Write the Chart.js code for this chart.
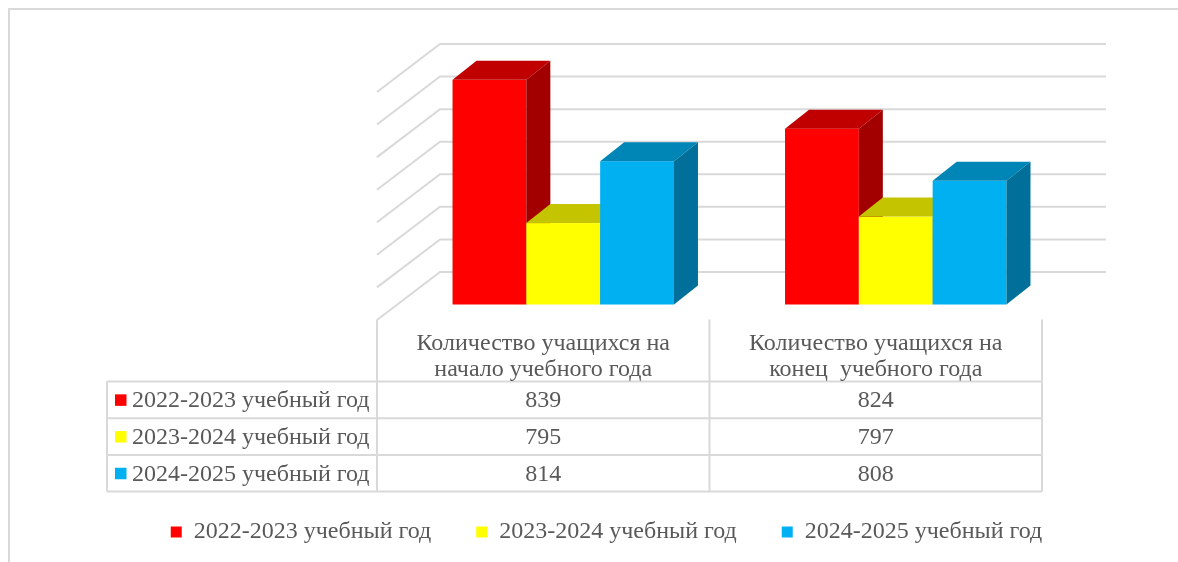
<!DOCTYPE html>
<html lang="ru">
<head>
<meta charset="utf-8">
<title>Количество учащихся</title>
<script src="https://cdn.jsdelivr.net/npm/chart.js@4.4.1/dist/chart.umd.min.js"></script>
<style>
  html, body { margin: 0; padding: 0; background: #fff; }
  canvas { display: block; }
</style>
</head>
<body>
<canvas id="uchChart" width="1178" height="562"></canvas>
<script>
// Данные
const kategorii = [
    ['Количество учащихся на', 'начало учебного года'],
    ['Количество учащихся на', 'конец  учебного года']
];
const godaLabels = ['2022-2023 учебный год', '2023-2024 учебный год', '2024-2025 учебный год'];
const znachenia2022 = [839, 824];
const znachenia2023 = [795, 797];
const znachenia2024 = [814, 808];
const yMin = 770, yMax = 850, yStep = 10;

// Цвета: лицевая грань, верх, бок
const cveta = ['#FF0000', '#FFFF00', '#00B0F0'];
const cvetaVerh = ['#C00000', '#C4C400', '#0086B6'];
const cvetaBok = ['#A20000', '#A6A600', '#00709A'];
const setkaCvet = '#D9D9D9';
const tekstCvet = '#595959';
const shrift = "'Liberation Serif', 'Times New Roman', serif";

const glubina = { dx: 24, dy: 19 };            // глубина столбца
const stena = { dx: 63, dy: 48, sdvig: 20 };    // боковая стенка

// Рамка всей диаграммы
const ramkaPlugin = {
    id: 'ramka',
    beforeDraw(chart) {
        const ctx = chart.ctx;
        ctx.save();
        ctx.fillStyle = '#fff';
        ctx.fillRect(0, 0, chart.width, chart.height);
        ctx.strokeStyle = setkaCvet;
        ctx.lineWidth = 2;
        ctx.strokeRect(9, 9, chart.width + 40, chart.height + 40);
        ctx.restore();
    }
};

// Задняя и боковая стенки (линии сетки)
const stenaPlugin = {
    id: 'stena',
    beforeDatasetsDraw(chart) {
        const { ctx, chartArea, scales: { y } } = chart;
        const frontX = chartArea.left - stena.sdvig;
        const backX = frontX + stena.dx;
        const backRight = chartArea.right + 44;
        ctx.save();
        ctx.strokeStyle = setkaCvet;
        ctx.lineWidth = 2;
        y.ticks.forEach(t => {
            if (t.value <= yMin) return;
            const py = y.getPixelForValue(t.value);
            ctx.beginPath();
            ctx.moveTo(frontX, py + stena.dy);
            ctx.lineTo(backX, py);
            ctx.lineTo(backRight, py);
            ctx.stroke();
        });
        ctx.restore();
    }
};

// Объёмные столбцы (рисуем сами, слева направо)
const stolbikiPlugin = {
    id: 'stolbiki3d',
    beforeDatasetDraw() {
        return false;
    },
    afterDatasetsDraw(chart) {
        const ctx = chart.ctx;
        const n = chart.data.labels.length;
        const base = chart.scales.y.getPixelForValue(yMin);
        ctx.save();
        for (let j = 0; j < n; j++) {
            chart.data.datasets.forEach((ds, i) => {
                const bar = chart.getDatasetMeta(i).data[j];
                const { x, y, width } = bar.getProps(['x', 'y', 'width'], true);
                const l = x - width / 2, r = x + width / 2;
                const dx = glubina.dx, dy = glubina.dy;

                ctx.fillStyle = cveta[i];
                ctx.fillRect(l, y, width, base - y);

                ctx.fillStyle = cvetaVerh[i];
                ctx.beginPath();
                ctx.moveTo(l, y);
                ctx.lineTo(l + dx, y - dy);
                ctx.lineTo(r + dx, y - dy);
                ctx.lineTo(r, y);
                ctx.closePath();
                ctx.fill();

                ctx.fillStyle = cvetaBok[i];
                ctx.beginPath();
                ctx.moveTo(r, y);
                ctx.lineTo(r + dx, y - dy);
                ctx.lineTo(r + dx, base - dy);
                ctx.lineTo(r, base);
                ctx.closePath();
                ctx.fill();
            });
        }
        ctx.restore();
    }
};

// Таблица данных под диаграммой
const tablicaPlugin = {
    id: 'tablica',
    afterDraw(chart) {
        const { ctx, chartArea } = chart;
        const n = chart.data.labels.length;
        const front = chartArea.left - stena.sdvig;
        const colW = (chartArea.right - chartArea.left) / n;
        const right = front + colW * n;
        const tLeft = 107;
        const top = chartArea.bottom + 15;
        const headBottom = top + 62;
        const rowH = 36.7;
        const rows = chart.data.datasets.length;
        const bottom = headBottom + rowH * rows;

        ctx.save();
        ctx.strokeStyle = setkaCvet;
        ctx.lineWidth = 2;
        ctx.beginPath();
        for (let c = 0; c <= n; c++) {
            const cx = front + colW * c;
            ctx.moveTo(cx, top);
            ctx.lineTo(cx, bottom);
        }
        ctx.moveTo(tLeft, headBottom);
        ctx.lineTo(tLeft, bottom);
        for (let r = 0; r <= rows; r++) {
            const ry = headBottom + rowH * r;
            ctx.moveTo(tLeft, ry);
            ctx.lineTo(right, ry);
        }
        ctx.stroke();

        ctx.font = '24px ' + shrift;
        ctx.fillStyle = tekstCvet;
        ctx.textAlign = 'center';
        ctx.textBaseline = 'middle';
        chart.data.labels.forEach((lab, c) => {
            const cx = front + colW * (c + 0.5);
            ctx.fillText(lab[0], cx, top + 24);
            ctx.fillText(lab[1], cx, top + 50);
        });

        chart.data.datasets.forEach((ds, r) => {
            const cy = headBottom + rowH * (r + 0.5) + 1;
            ctx.fillStyle = cveta[r];
            ctx.fillRect(tLeft + 8, cy - 6.5, 11.5, 11.5);
            ctx.fillStyle = tekstCvet;
            ctx.textAlign = 'left';
            ctx.fillText(ds.label, tLeft + 25, cy);
            ctx.textAlign = 'center';
            ds.data.forEach((v, c) => {
                ctx.fillText(String(v), front + colW * (c + 0.5), cy);
            });
        });
        ctx.restore();
    }
};

const ctxUch = document.getElementById('uchChart').getContext('2d');
const uchChart = new Chart(ctxUch, {
    type: 'bar',
    data: {
        labels: kategorii,
        datasets: [
            { label: godaLabels[0], data: znachenia2022, backgroundColor: cveta[0], borderWidth: 0 },
            { label: godaLabels[1], data: znachenia2023, backgroundColor: cveta[1], borderWidth: 0 },
            { label: godaLabels[2], data: znachenia2024, backgroundColor: cveta[2], borderWidth: 0 }
        ]
    },
    options: {
        responsive: false,
        animation: false,
        font: { family: shrift },
        categoryPercentage: 0.666,
        barPercentage: 1,
        base: yMin,
        layout: { padding: { top: 44, left: 35, right: 0, bottom: 8 } },
        scales: {
            x: {
                grid: { display: false },
                border: { display: false },
                ticks: { display: false },
                afterFit: s => { s.height = 170.5; }
            },
            y: {
                position: 'left',
                min: yMin,
                max: yMax,
                ticks: { display: false, stepSize: yStep },
                grid: { display: false },
                border: { display: false },
                afterFit: s => { s.width = 362; }
            },
            y2: {
                type: 'linear',
                position: 'right',
                ticks: { display: false },
                grid: { display: false },
                border: { display: false },
                afterFit: s => { s.width = 116; }
            }
        },
        plugins: {
            tooltip: { enabled: false },
            legend: {
                position: 'bottom',
                labels: {
                    boxWidth: 11,
                    boxHeight: 11,
                    padding: 45,
                    color: tekstCvet,
                    font: { family: shrift, size: 24 }
                }
            }
        }
    },
    plugins: [ramkaPlugin, stenaPlugin, stolbikiPlugin, tablicaPlugin]
});
</script>
</body>
</html>
